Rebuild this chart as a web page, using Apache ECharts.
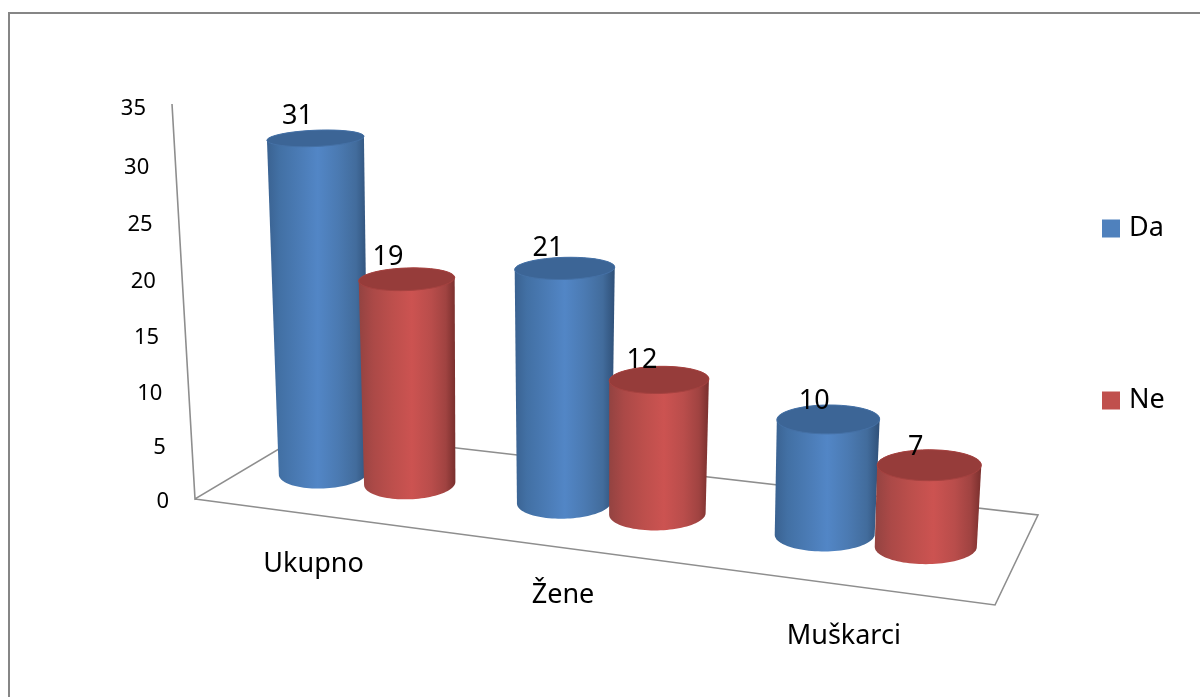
<!DOCTYPE html>
<html>
<head>
<meta charset="utf-8">
<style>html,body{margin:0;padding:0;background:#fff}#c{width:1200px;height:697px}</style>
<script src="https://cdn.jsdelivr.net/npm/echarts@6/dist/echarts.min.js"></script>
</head>
<body>
<div id="c"></div>
<script>
const categories = ['Ukupno', 'Žene', 'Muškarci'];
const yTicks = [0, 5, 10, 15, 20, 25, 30, 35];
const daValues = [31, 21, 10];
const neValues = [19, 12, 7];

const W = 1200, H = 697, Y_MAX = 35, FONT = '"Noto Sans", "Open Sans", sans-serif';
const labelNudge = [[2, 0], [-4, -3], [0, 2]];
const chart = echarts.init(document.getElementById('c'), null, {renderer: 'canvas'});

// The flat grid fills the page; every mark is read from it and then projected.
const along = u => 0.887 * u / (1 - 0.113 * u);
const readValue = py => (H - py) / H * Y_MAX;

const grad = stops => new echarts.graphic.LinearGradient(0, 0, 1, 0,
  stops.map(s => ({offset: s[0], color: s[1]})));

const BLUE = {
  body: [[0, '#3a6291'], [0.12, '#4270a4'], [0.35, '#4c7db8'], [0.5, '#5286c6'], [0.7, '#4b7ab2'], [0.88, '#426c9c'], [1, '#2f5078']],
  lid: '#3c6596', rim: '#4571a6'
};
const RED = {
  body: [[0, '#934341'], [0.15, '#ab4947'], [0.35, '#bd4f4c'], [0.55, '#cc5351'], [0.75, '#b94d4b'], [0.9, '#a04341'], [1, '#792f2d']],
  lid: '#963c3a', rim: '#a54240'
};

function ellipse(cx, cy, rx, ry, slope, a0, a1) {
  const pts = [];
  for (let k = 0; k <= 48; k++) {
    const t = a0 + (a1 - a0) * k / 48;
    const c = Math.cos(t), s = Math.sin(t);
    pts.push([cx + rx * c, cy + ry * s + slope * rx * c]);
  }
  return pts;
}

function cylinder(shift, look) {
  return function (params, api) {
    const idx = api.value(0), val = api.value(1);
    const px = api.coord([idx, val]);
    const band = api.size([1, 0])[0];
    const f = along((px[0] + shift * band) / W);
    const v = readValue(px[1]);
    const bx = 252 + 764.5 * f, by = 464 + 94 * f;
    const h = (10 + 1.7 * f) * v * (1 + 0.002 * v);
    const tx = bx + h * (bx - 545) * 0.00011, ty = by - h;
    const rxB = 44 + 8 * f, rxT = rxB * (1 + 0.00025 * h);
    const ryB = 5 + 0.0225 * by, ryT = 5 + 0.0225 * ty;
    const slope = -0.045 + 0.05 * f;
    const body = ellipse(tx, ty, rxT, ryT, slope, Math.PI, 2 * Math.PI)
      .concat(ellipse(bx, by, rxB, ryB, slope, 0, Math.PI));
    const lid = ellipse(tx, ty, rxT, ryT, slope, 0, 2 * Math.PI);
    return {
      type: 'group',
      children: [
        {type: 'polygon', shape: {points: body}, style: {fill: grad(look.body)}},
        {type: 'polygon', shape: {points: lid}, style: {fill: look.lid, stroke: look.rim, lineWidth: 1}},
        {type: 'text', z2: 10, style: {
          text: String(val), x: tx - 18 + 7 * f * f - (shift > 0 ? 1 : 0), y: ty - 23 + 6 * f,
          fill: '#000', fontSize: 27, fontFamily: FONT, align: 'center', verticalAlign: 'middle'
        }}
      ]
    };
  };
}

function tickLabel(params, api) {
  const val = api.value(0);
  const v = readValue(api.coord([0, val])[1]);
  return {
    type: 'text',
    style: {
      text: String(val), x: 169 - 23 * v / Y_MAX, y: 502 - 10.7 * v * (1 + 0.0014 * v),
      fill: '#000', fontSize: 22, fontFamily: FONT, align: 'right', verticalAlign: 'middle'
    }
  };
}

function catLabel(params, api) {
  const idx = api.value(0);
  const f = along(api.coord([idx, 0])[0] / W);
  return {
    type: 'text',
    style: {
      text: categories[idx], x: 191 + 800 * f + labelNudge[idx][0], y: 548 + 106 * f + labelNudge[idx][1],
      fill: '#000', fontSize: 27, fontFamily: FONT, align: 'center', verticalAlign: 'middle'
    }
  };
}

chart.setOption({
  animation: false,
  backgroundColor: '#fff',
  grid: {left: 0, right: 0, top: 0, bottom: 0},
  xAxis: {type: 'category', data: categories, show: false},
  yAxis: {type: 'value', min: 0, max: Y_MAX, interval: 5, show: false},
  legend: {
    data: ['Da', 'Ne'], orient: 'vertical', left: 1097, top: 210,
    icon: 'rect', itemWidth: 18, itemHeight: 18, itemGap: 145,
    textStyle: {fontSize: 27, fontFamily: FONT, color: '#000', padding: [0, 0, 0, 4]}
  },
  graphic: [
    {type: 'polyline', z: 0, shape: {points: [[9, 697], [9, 13], [1200, 13]]},
      style: {fill: null, stroke: '#868686', lineWidth: 2}},
    {type: 'polyline', z: 0, shape: {points: [[172, 104], [195, 499], [309, 431], [1038, 515], [995, 605], [195, 499]]},
      style: {fill: null, stroke: '#8e8e8e', lineWidth: 1.6}}
  ],
  series: [
    {name: 'ticks', type: 'custom', coordinateSystem: 'cartesian2d', clip: false, silent: true,
      encode: {x: 1, y: 0}, data: yTicks.map(t => [t, 0]), renderItem: tickLabel},
    {name: 'labels', type: 'custom', coordinateSystem: 'cartesian2d', clip: false, silent: true,
      encode: {x: 0, y: 1}, data: categories.map((c, i) => [i, 0]), renderItem: catLabel},
    {name: 'Da', type: 'custom', coordinateSystem: 'cartesian2d', clip: false, itemStyle: {color: '#4f81bd'},
      encode: {x: 0, y: 1}, data: daValues.map((v, i) => [i, v]), renderItem: cylinder(-0.187, BLUE)},
    {name: 'Ne', type: 'custom', coordinateSystem: 'cartesian2d', clip: false, itemStyle: {color: '#c0504d'},
      encode: {x: 0, y: 1}, data: neValues.map((v, i) => [i, v]), renderItem: cylinder(0.18, RED)}
  ]
});
</script>
</body>
</html>
